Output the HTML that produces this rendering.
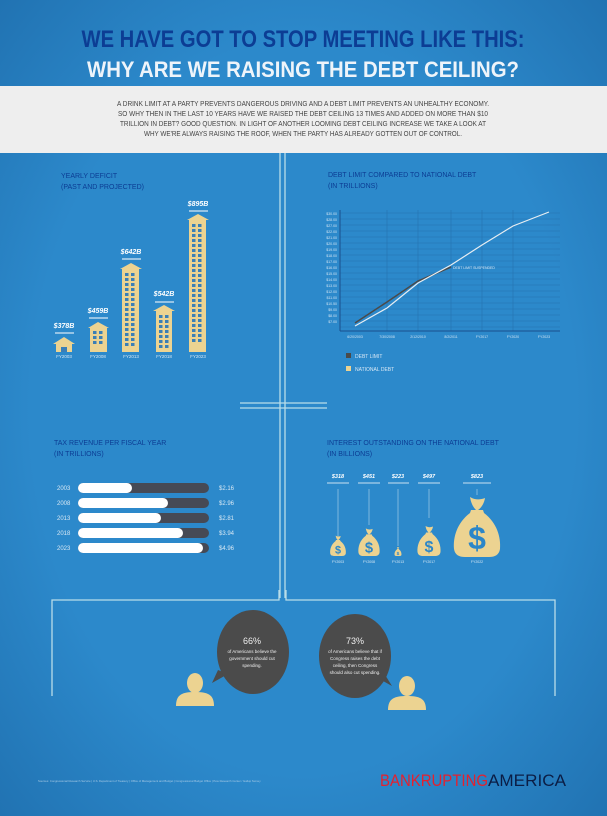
<!DOCTYPE html>
<html><head><meta charset="utf-8"><style>
html,body{margin:0;padding:0;background:#2b86c8;}
svg{display:block;}
text{font-family:"Liberation Sans",sans-serif;}
</style></head><body>
<svg width="607" height="816" viewBox="0 0 607 816" xmlns="http://www.w3.org/2000/svg" xmlns:xlink="http://www.w3.org/1999/xlink">
<defs>
<radialGradient id="bg" cx="50%" cy="50%" r="75%">
<stop offset="0.6" stop-color="#2c89cb"/><stop offset="1" stop-color="#1f6fae"/>
</radialGradient>
<pattern id="w1" patternUnits="userSpaceOnUse" x="93" y="331" width="6" height="5"><rect x="0" y="0" width="3.5" height="3" fill="#3b7fb6"/></pattern>
<pattern id="w2" patternUnits="userSpaceOnUse" x="125" y="273" width="6" height="5"><rect x="0" y="0" width="3.5" height="3" fill="#3b7fb6"/></pattern>
<pattern id="w3" patternUnits="userSpaceOnUse" x="159" y="315" width="6" height="5"><rect x="0" y="0" width="3.5" height="3" fill="#3b7fb6"/></pattern>
<pattern id="w4" patternUnits="userSpaceOnUse" x="192" y="224" width="6" height="5"><rect x="0" y="0" width="3.5" height="3" fill="#3b7fb6"/></pattern>
<g id="bag">
<path d="M-7,-60 C-2,-57 3,-57 8,-59 C7,-53 4,-49 1,-47 L-1,-47 C-4,-50 -6,-54 -7,-60Z" fill="#ecd391"/>
<path d="M-6,-47 L6,-47 L7,-44 C20,-34 24,-20 23,-8 C22,-2 18,0 12,0 L-12,0 C-18,0 -22,-2 -23,-8 C-24,-20 -20,-34 -7,-44Z" fill="#ecd391"/>
<text x="0" y="-8" font-size="32" font-weight="bold" fill="#2b86c8" text-anchor="middle">$</text>
</g>
</defs>
<rect width="607" height="816" fill="url(#bg)"/>
<text x="303" y="47" font-size="24" font-weight="bold" fill="#0c3d94" text-anchor="middle" textLength="443" lengthAdjust="spacingAndGlyphs">WE HAVE GOT TO STOP MEETING LIKE THIS:</text>
<text x="303" y="77" font-size="22" font-weight="bold" fill="#eef4fa" text-anchor="middle" textLength="432" lengthAdjust="spacingAndGlyphs">WHY ARE WE RAISING THE DEBT CEILING?</text>
<rect x="0" y="86" width="607" height="67" fill="#eeeeee"/>
<g font-size="7.2" fill="#444" text-anchor="middle">
<text x="303" y="106" textLength="372" lengthAdjust="spacingAndGlyphs">A DRINK LIMIT AT A PARTY PREVENTS DANGEROUS DRIVING AND A DEBT LIMIT PREVENTS AN UNHEALTHY ECONOMY.</text>
<text x="303" y="116" textLength="370" lengthAdjust="spacingAndGlyphs">SO WHY THEN IN THE LAST 10 YEARS HAVE WE RAISED THE DEBT CEILING 13 TIMES AND ADDED ON MORE THAN $10</text>
<text x="303" y="126" textLength="366" lengthAdjust="spacingAndGlyphs">TRILLION IN DEBT? GOOD QUESTION. IN LIGHT OF ANOTHER LOOMING DEBT CEILING INCREASE WE TAKE A LOOK AT</text>
<text x="303" y="136" textLength="318" lengthAdjust="spacingAndGlyphs">WHY WE'RE ALWAYS RAISING THE ROOF, WHEN THE PARTY HAS ALREADY GOTTEN OUT OF CONTROL.</text>
</g>
<g stroke="#b9dde9" stroke-width="1.3" fill="none">
<line x1="280" y1="153" x2="280" y2="598"/><line x1="285" y1="153" x2="285" y2="598"/>
<line x1="240" y1="403" x2="327" y2="403"/><line x1="240" y1="408" x2="327" y2="408"/>
<polyline points="279,590 279,600 52,600 52,696"/>
<polyline points="286,590 286,600 555,600 555,696"/>
</g>
<g font-size="7" fill="#0c3d94"><text x="61" y="178">YEARLY DEFICIT</text><text x="61" y="189">(PAST AND PROJECTED)</text></g>
<g fill="#ecd391">
<polygon points="53,344 64,337 75,344"/><rect x="56" y="344" width="16" height="8"/>
<polygon points="88,328 98,322 109,328"/><rect x="90" y="328" width="17" height="24"/>
<polygon points="120,269 131,263 142,269"/><rect x="122" y="269" width="17" height="83"/>
<polygon points="153,311 164,305 175,311"/><rect x="156" y="311" width="16" height="41"/>
<polygon points="187,220 198,214 209,220"/><rect x="189" y="220" width="17" height="132"/>
</g>
<rect x="61" y="347" width="6" height="5" fill="#3a7fb8"/>
<rect x="93" y="331" width="10" height="15" fill="url(#w1)"/>
<rect x="125" y="273" width="10" height="75" fill="url(#w2)"/>
<rect x="159" y="315" width="10" height="35" fill="url(#w3)"/>
<rect x="192" y="224" width="10" height="120" fill="url(#w4)"/>
<g fill="#fff" font-size="7" font-weight="bold" font-style="italic" text-anchor="middle">
<text x="64" y="328">$378B</text><text x="98" y="313">$459B</text><text x="131" y="254">$642B</text><text x="164" y="296">$542B</text><text x="198" y="206">$895B</text>
</g>
<g stroke="#fff" stroke-width="1"><line x1="55" y1="333" x2="74" y2="333"/><line x1="89" y1="318" x2="108" y2="318"/><line x1="122" y1="259" x2="141" y2="259"/><line x1="155" y1="302" x2="174" y2="302"/><line x1="189" y1="211" x2="208" y2="211"/></g>
<g fill="#d7e8f4" font-size="4.5" text-anchor="middle"><text x="64" y="358">FY2003</text><text x="98" y="358">FY2008</text><text x="131" y="358">FY2013</text><text x="164" y="358">FY2018</text><text x="198" y="358">FY2023</text></g>
<g font-size="7" fill="#0c3d94"><text x="328" y="177">DEBT LIMIT COMPARED TO NATIONAL DEBT</text><text x="328" y="188">(IN TRILLIONS)</text></g>
<g stroke="#2673b0" stroke-width="0.6">
<line x1="340" y1="213" x2="560" y2="213"/><line x1="340" y1="219" x2="560" y2="219"/><line x1="340" y1="225" x2="560" y2="225"/><line x1="340" y1="231" x2="560" y2="231"/><line x1="340" y1="237" x2="560" y2="237"/><line x1="340" y1="243" x2="560" y2="243"/><line x1="340" y1="249" x2="560" y2="249"/><line x1="340" y1="255" x2="560" y2="255"/><line x1="340" y1="261" x2="560" y2="261"/><line x1="340" y1="267" x2="560" y2="267"/><line x1="340" y1="273" x2="560" y2="273"/><line x1="340" y1="279" x2="560" y2="279"/><line x1="340" y1="285" x2="560" y2="285"/><line x1="340" y1="291" x2="560" y2="291"/><line x1="340" y1="297" x2="560" y2="297"/><line x1="340" y1="303" x2="560" y2="303"/><line x1="340" y1="309" x2="560" y2="309"/><line x1="340" y1="315" x2="560" y2="315"/><line x1="340" y1="321" x2="560" y2="321"/><line x1="340" y1="327" x2="560" y2="327"/>
<line x1="387" y1="210" x2="387" y2="331"/><line x1="418" y1="210" x2="418" y2="331"/><line x1="451" y1="210" x2="451" y2="331"/><line x1="482" y1="210" x2="482" y2="331"/><line x1="513" y1="210" x2="513" y2="331"/>
</g>
<g stroke="#1a4f8c" stroke-width="1"><line x1="340" y1="210" x2="340" y2="331"/><line x1="340" y1="331" x2="560" y2="331"/></g>
<g fill="#cfe3f2" font-size="3.5" text-anchor="end">
<text x="337" y="215">$30.00</text><text x="337" y="221">$28.00</text><text x="337" y="227">$27.00</text><text x="337" y="233">$22.00</text><text x="337" y="239">$21.00</text><text x="337" y="245">$20.00</text><text x="337" y="251">$19.00</text><text x="337" y="257">$18.00</text><text x="337" y="263">$17.00</text><text x="337" y="269">$16.00</text><text x="337" y="275">$15.00</text><text x="337" y="281">$14.00</text><text x="337" y="287">$13.00</text><text x="337" y="293">$12.00</text><text x="337" y="299">$11.00</text><text x="337" y="305">$10.50</text><text x="337" y="311">$9.00</text><text x="337" y="317">$8.00</text><text x="337" y="323">$7.00</text>
</g>
<g fill="#cfe3f2" font-size="3.5" text-anchor="middle">
<text x="355" y="338">6/20/2003</text><text x="387" y="338">7/30/2008</text><text x="418" y="338">2/12/2010</text><text x="451" y="338">8/2/2011</text><text x="482" y="338">FY2017</text><text x="513" y="338">FY2020</text><text x="544" y="338">FY2023</text>
</g>
<polyline points="355,323 387,302 418,281 451,267" fill="none" stroke="#4a4a4a" stroke-width="1.5"/>
<polyline points="355,326 387,308 418,283 451,265 482,245 513,226 549,212" fill="none" stroke="#e8eef2" stroke-width="1.2"/>
<text x="453" y="269" font-size="3.5" fill="#d8e8f5">DEBT LIMIT SUSPENDED</text>
<rect x="346" y="353" width="5" height="5" fill="#4a4a4a"/><text x="355" y="358" font-size="5" fill="#d8e8f5">DEBT LIMIT</text>
<rect x="346" y="366" width="5" height="5" fill="#ecd391"/><text x="355" y="371" font-size="5" fill="#d8e8f5">NATIONAL DEBT</text>
<g font-size="7" fill="#0c3d94"><text x="54" y="445">TAX REVENUE PER FISCAL YEAR</text><text x="54" y="456"> (IN TRILLIONS)</text></g>
<g fill="#464a55">
<rect x="78" y="483" width="131" height="10" rx="5"/><rect x="78" y="498" width="131" height="10" rx="5"/><rect x="78" y="513" width="131" height="10" rx="5"/><rect x="78" y="528" width="131" height="10" rx="5"/><rect x="78" y="543" width="131" height="10" rx="5"/>
</g>
<g fill="#fff">
<rect x="78" y="483" width="54" height="10" rx="5"/><rect x="78" y="498" width="90" height="10" rx="5"/><rect x="78" y="513" width="83" height="10" rx="5"/><rect x="78" y="528" width="105" height="10" rx="5"/><rect x="78" y="543" width="125" height="10" rx="5"/>
</g>
<g fill="#d7e8f4" font-size="6">
<text x="57" y="490">2003</text><text x="57" y="505">2008</text><text x="57" y="520">2013</text><text x="57" y="535">2018</text><text x="57" y="550">2023</text>
<text x="219" y="490">$2.16</text><text x="219" y="505">$2.96</text><text x="219" y="520">$2.81</text><text x="219" y="535">$3.94</text><text x="219" y="550">$4.96</text>
</g>
<g font-size="7" fill="#0c3d94"><text x="327" y="445">INTEREST OUTSTANDING ON THE NATIONAL DEBT</text><text x="327" y="456">(IN BILLIONS)</text></g>
<g fill="#fff" font-size="5.5" font-weight="bold" font-style="italic" text-anchor="middle">
<text x="338" y="478">$318</text><text x="369" y="478">$451</text><text x="398" y="478">$223</text><text x="429" y="478">$497</text><text x="477" y="478">$823</text>
</g>
<g stroke="#fff" stroke-width="0.8">
<line x1="327" y1="483" x2="349" y2="483"/><line x1="358" y1="483" x2="380" y2="483"/><line x1="388" y1="483" x2="409" y2="483"/><line x1="418" y1="483" x2="440" y2="483"/><line x1="463" y1="483" x2="491" y2="483"/>
</g>
<g stroke="#cfe3f2" stroke-width="0.5">
<line x1="338" y1="489" x2="338" y2="536"/><line x1="369" y1="489" x2="369" y2="525"/><line x1="398" y1="489" x2="398" y2="546"/><line x1="429" y1="489" x2="429" y2="518"/><line x1="477" y1="489" x2="477" y2="495"/>
</g>
<use xlink:href="#bag" transform="translate(338,556) scale(0.34)"/>
<use xlink:href="#bag" transform="translate(369,556) scale(0.46)"/>
<use xlink:href="#bag" transform="translate(398,556) scale(0.15)"/>
<use xlink:href="#bag" transform="translate(429,556) scale(0.5)"/>
<use xlink:href="#bag" transform="translate(477,557) scale(1)"/>
<g fill="#d7e8f4" font-size="3.5" text-anchor="middle">
<text x="338" y="563">FY2003</text><text x="369" y="563">FY2008</text><text x="398" y="563">FY2013</text><text x="429" y="563">FY2017</text><text x="477" y="563">FY2022</text>
</g>
<polygon points="218,670 212,683 228,674" fill="#4b4b4b"/>
<ellipse cx="253" cy="652" rx="36" ry="42" fill="#4b4b4b"/>
<polygon points="382,670 392,686 376,677" fill="#4b4b4b"/>
<ellipse cx="355" cy="656" rx="36" ry="42" fill="#4b4b4b"/>
<g fill="#eee" text-anchor="middle">
<text x="252" y="644" font-size="9">66%</text>
<text x="252" y="653" font-size="4.5">of Americans believe the</text>
<text x="252" y="660" font-size="4.5">government should cut</text>
<text x="252" y="667" font-size="4.5">spending.</text>
<text x="355" y="644" font-size="9">73%</text>
<text x="355" y="653" font-size="4.5">of Americans believe that if</text>
<text x="355" y="660" font-size="4.5">Congress raises the debt</text>
<text x="355" y="667" font-size="4.5">ceiling, then Congress</text>
<text x="355" y="674" font-size="4.5">should also cut spending.</text>
</g>
<g fill="#ecd391">
<ellipse cx="195" cy="683" rx="8" ry="10"/><path d="M176,706 C176,694 183,692 195,692 C207,692 214,694 214,706Z"/>
<ellipse cx="407" cy="686" rx="8" ry="10"/><path d="M388,710 C388,698 395,696 407,696 C419,696 426,698 426,710Z"/>
</g>
<text x="38" y="782" font-size="2.8" fill="#a9cbe6">Sources: Congressional Research Service | U.S. Department of Treasury | Office of Management and Budget | Congressional Budget Office | Pew Research Center / Gallup Survey</text>
<text x="380" y="786" font-size="17" fill="#e3212f" textLength="108" lengthAdjust="spacingAndGlyphs">BANKRUPTING</text>
<text x="488" y="786" font-size="17" fill="#0b1d45" textLength="78" lengthAdjust="spacingAndGlyphs">AMERICA</text>
</svg>
</body></html>
